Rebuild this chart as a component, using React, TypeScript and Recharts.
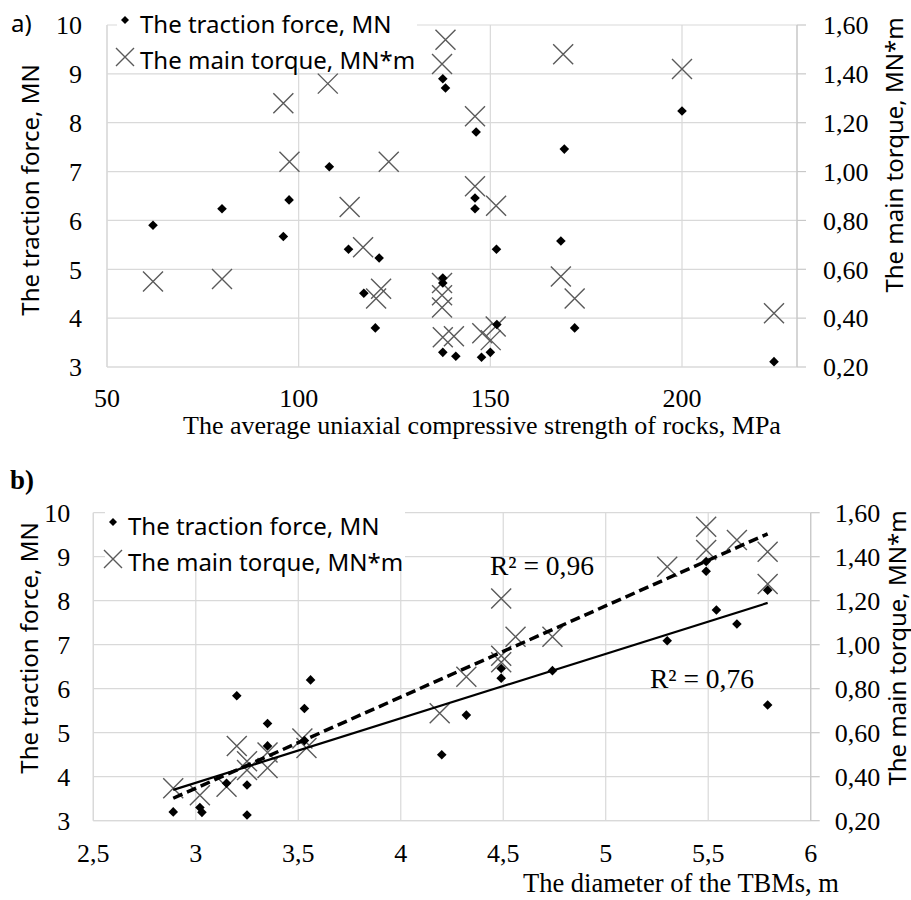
import { ScatterChart, Scatter, XAxis, YAxis, CartesianGrid } from 'recharts';

// a) uniaxial compressive strength of rocks, MPa
const ucsForceX = [62, 80, 97.5, 96, 108, 113, 121, 117, 120, 137.6, 138.3, 146.3, 146, 146, 151.6, 137.6, 137.6, 151.7, 137.6, 141, 147.7, 150, 168.4, 169.3, 172, 200, 224];
const ucsForceY = [5.9, 6.24, 6.42, 5.67, 7.1, 5.41, 5.23, 4.51, 3.8, 8.9, 8.71, 7.81, 6.46, 6.24, 5.41, 4.82, 4.72, 3.87, 3.3, 3.22, 3.2, 3.3, 5.58, 7.46, 3.8, 8.24, 3.11];
const ucsTorqueX = [62, 80, 96, 97.6, 107.6, 123.5, 113.3, 116.8, 121.5, 120.2, 138.3, 137.4, 146, 146, 151.5, 137.4, 137.4, 137.4, 137.6, 140.5, 147.9, 150.1, 151.4, 169, 200, 168.4, 172, 224];
const ucsTorqueY = [0.55, 0.56, 1.28, 1.04, 1.36, 1.04, 0.855, 0.69, 0.52, 0.48, 1.54, 1.44, 1.226, 0.94, 0.86, 0.544, 0.494, 0.444, 0.322, 0.326, 0.338, 0.31, 0.366, 1.48, 1.42, 0.57, 0.48, 0.42];

// b) diameter of the TBMs, m
const dForceX = [2.89, 3.02, 3.03, 3.15, 3.2, 3.25, 3.25, 3.35, 3.35, 3.53, 3.53, 3.56, 4.2, 4.32, 4.49, 4.49, 4.74, 5.3, 5.49, 5.49, 5.54, 5.64, 5.79, 5.79];
const dForceY = [3.2, 3.3, 3.19, 3.85, 5.84, 3.81, 3.13, 5.21, 4.7, 5.55, 4.82, 6.2, 4.5, 5.4, 6.46, 6.24, 6.41, 7.09, 8.67, 8.89, 7.79, 7.47, 8.24, 5.63];
const dTorqueX = [2.89, 3.02, 3.15, 3.2, 3.25, 3.25, 3.35, 3.35, 3.52, 3.54, 4.19, 4.32, 4.49, 4.49, 4.49, 4.56, 4.74, 5.3, 5.49, 5.49, 5.64, 5.79, 5.79];
const dTorqueY = [0.348, 0.316, 0.354, 0.54, 0.47, 0.43, 0.51, 0.44, 0.574, 0.53, 0.688, 0.854, 1.21, 0.95, 0.92, 1.036, 1.036, 1.354, 1.536, 1.43, 1.476, 1.422, 1.276];

// linear trendlines (end points)
const trendX = [2.89, 5.79];
const forceTrendY = [3.7, 7.95];
const torqueTrendY = [0.302, 1.504];

const forceTicks = [3, 4, 5, 6, 7, 8, 9, 10];
const torqueTicks = [0.2, 0.4, 0.6, 0.8, 1.0, 1.2, 1.4, 1.6];
const ucsTicks = [50, 100, 150, 200];
const diamTicks = [2.5, 3, 3.5, 4, 4.5, 5, 5.5, 6];

const zip = (xs: number[], ys: number[]) => xs.map((x, i) => ({ x, y: ys[i] }));

const SERIF = 'Liberation Serif, Times New Roman, serif';
const SANS = 'Noto Sans, Open Sans, sans-serif';
const GRID = '#d9d9d9';
const tickStyle = { fontSize: 26, fill: '#000', fontFamily: SERIF };
const comma = (v: number, d: number) => v.toFixed(d).replace('.', ',');

const Diamond = (p: any) => {
  const { cx, cy } = p;
  if (cx == null || cy == null) return <g />;
  return <path d={`M${cx},${cy - 4.8}L${cx + 4.8},${cy}L${cx},${cy + 4.8}L${cx - 4.8},${cy}Z`} fill="#000" />;
};

const Cross = (p: any) => {
  const { cx, cy } = p;
  if (cx == null || cy == null) return <g />;
  const r = 10;
  return (
    <path
      d={`M${cx - r},${cy - r}L${cx + r},${cy + r}M${cx - r},${cy + r}L${cx + r},${cy - r}`}
      stroke="#5a5a5a"
      strokeWidth={1.4}
      fill="none"
    />
  );
};

const NoDot = () => <g />;

interface PanelProps {
  top: number;
  height: number;
  marginTop: number;
  leftW: number;
  rightW: number;
  xH: number;
  xDomain: [number, number];
  xTicks: number[];
  xFmt: (v: number) => string;
  xMargin: number;
  leftMargin: number;
  rightMargin: number;
  force: { x: number; y: number }[];
  torque: { x: number; y: number }[];
  trends?: boolean;
}

function Panel(p: PanelProps) {
  return (
    <div style={{ position: 'absolute', left: 0, top: p.top }}>
      <ScatterChart width={911} height={p.height} margin={{ top: p.marginTop, right: 0, bottom: 0, left: 0 }}>
        <CartesianGrid yAxisId="left" stroke={GRID} strokeWidth={1.2} />
        <XAxis
          type="number"
          dataKey="x"
          domain={p.xDomain}
          ticks={p.xTicks}
          interval={0}
          allowDataOverflow
          height={p.xH}
          tick={tickStyle}
          tickFormatter={p.xFmt}
          tickLine={false}
          tickSize={0}
          tickMargin={p.xMargin}
          axisLine={{ stroke: GRID, strokeWidth: 1.2 }}
        />
        <YAxis
          yAxisId="left"
          type="number"
          dataKey="y"
          domain={[3, 10]}
          ticks={forceTicks}
          interval={0}
          width={p.leftW}
          tick={tickStyle}
          tickLine={false}
          tickSize={0}
          tickMargin={p.leftMargin}
          axisLine={{ stroke: GRID, strokeWidth: 1.2 }}
        />
        <YAxis
          yAxisId="right"
          orientation="right"
          type="number"
          dataKey="y"
          domain={[0.2, 1.6]}
          ticks={torqueTicks}
          interval={0}
          width={p.rightW}
          tick={tickStyle}
          tickFormatter={(v: number) => comma(v, 2)}
          tickLine={{ stroke: '#c8c8c8', strokeWidth: 1.2 }}
          tickSize={9}
          tickMargin={p.rightMargin}
          axisLine={{ stroke: '#c8c8c8', strokeWidth: 1.2 }}
        />
        <Scatter yAxisId="right" data={p.torque} shape={Cross} isAnimationActive={false} />
        <Scatter yAxisId="left" data={p.force} shape={Diamond} isAnimationActive={false} />
        {p.trends && (
          <Scatter
            yAxisId="left"
            data={zip(trendX, forceTrendY)}
            shape={NoDot}
            line={{ stroke: '#000', strokeWidth: 2.2 }}
            lineType="joint"
            isAnimationActive={false}
          />
        )}
        {p.trends && (
          <Scatter
            yAxisId="right"
            data={zip(trendX, torqueTrendY)}
            shape={NoDot}
            line={{ stroke: '#000', strokeWidth: 3.5, strokeDasharray: '10 5' }}
            lineType="joint"
            isAnimationActive={false}
          />
        )}
      </ScatterChart>
    </div>
  );
}

function Legend({ x, y }: { x: number; y: number }) {
  return (
    <g>
      <rect x={x - 8} y={y - 14} width={300} height={62} fill="#fff" />
      <path d={`M${x},${y - 4}L${x + 4},${y}L${x},${y + 4}L${x - 4},${y}Z`} fill="#000" />
      <text x={x + 15} y={y + 13} fontFamily={SANS} fontSize={24} fill="#000">
        The traction force, MN
      </text>
      <path
        d={`M${x - 9},${y + 28}L${x + 9},${y + 46}M${x - 9},${y + 46}L${x + 9},${y + 28}`}
        stroke="#5a5a5a"
        strokeWidth={1.4}
      />
      <text x={x + 15} y={y + 49} fontFamily={SANS} fontSize={24} fill="#000">
        The main torque, MN*m
      </text>
    </g>
  );
}

function VTitle({ x, y, children }: { x: number; y: number; children: string }) {
  return (
    <text
      transform={`translate(${x},${y}) rotate(-90)`}
      textAnchor="middle"
      dominantBaseline="central"
      fontFamily={SANS}
      fontSize={24}
      fill="#000"
    >
      {children}
    </text>
  );
}

export default function App() {
  return (
    <div style={{ position: 'absolute', left: 0, top: 0, width: 911, height: 900, background: '#fff', overflow: 'hidden' }}>
      <Panel
        top={0}
        height={460}
        marginTop={25}
        leftW={107}
        rightW={114}
        xH={93}
        xDomain={[50, 230]}
        xTicks={ucsTicks}
        xFmt={(v) => String(v)}
        xMargin={22}
        leftMargin={25}
        rightMargin={17}
        force={zip(ucsForceX, ucsForceY)}
        torque={zip(ucsTorqueX, ucsTorqueY)}
      />
      <Panel
        top={460}
        height={440}
        marginTop={52.7}
        leftW={93.3}
        rightW={100.3}
        xH={79.3}
        xDomain={[2.5, 6]}
        xTicks={diamTicks}
        xFmt={(v) => String(v).replace('.', ',')}
        xMargin={23}
        leftMargin={23}
        rightMargin={15}
        force={zip(dForceX, dForceY)}
        torque={zip(dTorqueX, dTorqueY)}
        trends
      />
      <svg width={911} height={900} style={{ position: 'absolute', left: 0, top: 0, pointerEvents: 'none' }}>
        {/* panel a */}
        <text x={11} y={32} fontFamily={SANS} fontSize={24} fill="#000">a)</text>
        <Legend x={125} y={20} />
        <VTitle x={29} y={190}>The traction force, MN</VTitle>
        <VTitle x={893} y={155}>The main torque, MN*m</VTitle>
        <text x={482} y={434} textAnchor="middle" fontFamily={SERIF} fontSize={26} fill="#000">
          The average uniaxial compressive strength of rocks, MPa
        </text>

        {/* panel b */}
        <text x={10} y={489} fontFamily={SERIF} fontWeight="bold" fontSize={27} fill="#000">b)</text>
        <Legend x={113} y={522} />
        <VTitle x={28} y={648}>The traction force, MN</VTitle>
        <VTitle x={896} y={648}>The main torque, MN*m</VTitle>
        <text x={681} y={892} textAnchor="middle" fontFamily={SERIF} fontSize={26.5} fill="#000">
          The diameter of the TBMs, m
        </text>
        <text x={490} y={575} fontFamily={SERIF} fontSize={27.5} fill="#000">R² = 0,96</text>
        <text x={650} y={688} fontFamily={SERIF} fontSize={27.5} fill="#000">R² = 0,76</text>
      </svg>
    </div>
  );
}
